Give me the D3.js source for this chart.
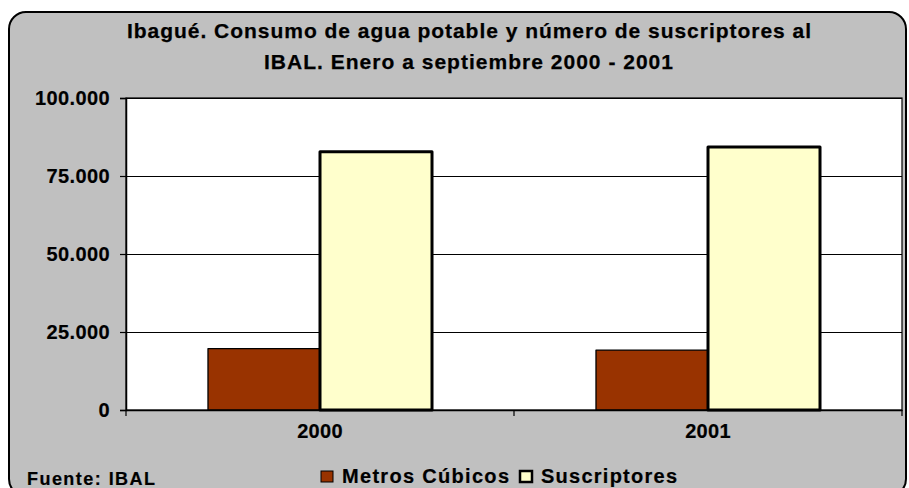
<!DOCTYPE html>
<html>
<head>
<meta charset="utf-8">
<script src="https://cdn.jsdelivr.net/npm/d3@7"></script>
<style>
  html, body { margin: 0; padding: 0; background: #ffffff; }
  svg { display: block; font-family: "Liberation Sans", Arial, sans-serif; font-weight: bold; }
</style>
</head>
<body>
<div id="chart"></div>
<script>
// Chart data
const years = ["2000", "2001"];
const seriesNames = ["Metros Cúbicos", "Suscriptores"];
const metrosCubicos = [19700, 19200];
const suscriptores = [82800, 84300];
const yTicks = [0, 25000, 50000, 75000, 100000];
const titleLines = ["Ibagué. Consumo de agua potable y número de suscriptores al",
                    "IBAL. Enero a septiembre 2000 - 2001"];
const sourceNote = "Fuente: IBAL";

const W = 909, H = 488;
const plot = { left: 126, right: 902, top: 98, bottom: 410 };
const colors = { "Metros Cúbicos": "#993300", "Suscriptores": "#FFFFCC" };
const strokeW = { "Metros Cúbicos": 1.3, "Suscriptores": 3 };
const FONT = "Liberation Sans, Arial, sans-serif";

const svg = d3.select("#chart").append("svg")
  .attr("width", W).attr("height", H);

// Rounded chart frame
svg.append("rect")
  .attr("x", 9).attr("y", 12).attr("width", 897).attr("height", 484)
  .attr("rx", 17).attr("ry", 17)
  .attr("fill", "#C0C0C0").attr("stroke", "#000").attr("stroke-width", 2);

// Title
const title = svg.append("g").attr("font-size", 21).attr("fill", "#000")
  .attr("stroke", "#000").attr("stroke-width", 0.25);
title.append("text").attr("x", 469).attr("y", 38).attr("text-anchor", "middle")
  .attr("textLength", 684).attr("lengthAdjust", "spacing").text(titleLines[0]);
title.append("text").attr("x", 468.5).attr("y", 69).attr("text-anchor", "middle")
  .attr("textLength", 409).attr("lengthAdjust", "spacing").text(titleLines[1]);

// Scales
const x = d3.scaleBand().domain(years).range([plot.left, plot.right]).padding(0);
const xs = d3.scaleBand().domain(seriesNames).range([0, x.bandwidth()])
  .paddingInner(0).paddingOuter(0.732);
const y = d3.scaleLinear().domain([0, 100000]).range([plot.bottom, plot.top]);

// Plot area
svg.append("rect")
  .attr("x", plot.left).attr("y", plot.top)
  .attr("width", plot.right - plot.left).attr("height", plot.bottom - plot.top)
  .attr("fill", "#fff").attr("stroke", "#000").attr("stroke-width", 1.2);

// Gridlines
svg.append("g").selectAll("line").data(yTicks.filter(d => d > 0)).join("line")
  .attr("x1", plot.left).attr("x2", plot.right)
  .attr("y1", d => Math.round(y(d)) + 0.5).attr("y2", d => Math.round(y(d)) + 0.5)
  .attr("stroke", "#000").attr("stroke-width", 1.2);

// Bars
const data = years.map((yr, i) => ({
  year: yr,
  values: [
    { name: seriesNames[0], value: metrosCubicos[i] },
    { name: seriesNames[1], value: suscriptores[i] }
  ]
}));

const groups = svg.append("g").selectAll("g").data(data).join("g")
  .attr("transform", d => `translate(${x(d.year)},0)`);
groups.selectAll("rect").data(d => d.values).join("rect")
  .attr("x", d => xs(d.name))
  .attr("y", d => y(d.value))
  .attr("width", xs.bandwidth())
  .attr("height", d => y(0) - y(d.value))
  .attr("fill", d => colors[d.name])
  .attr("stroke", "#000")
  .attr("stroke-width", d => strokeW[d.name])
  .attr("stroke-linejoin", "round");

// Y axis
const yAxis = d3.axisLeft(y).tickValues(yTicks).tickSize(6).tickPadding(10)
  .tickFormat(d => d3.format(",")(d).replace(/,/g, "."));
const yg = svg.append("g").attr("transform", `translate(${plot.left},0)`).call(yAxis);
yg.select(".domain").attr("stroke", "#000").attr("stroke-width", 1.5);
yg.selectAll(".tick line").attr("stroke", "#000").attr("stroke-width", 1.2);
yg.selectAll(".tick text").attr("font-size", 20).attr("font-family", FONT)
  .attr("font-weight", "bold").attr("fill", "#000").attr("letter-spacing", 0.4)
  .attr("stroke", "#000").attr("stroke-width", 0.2).attr("dy", "0.34em");

// X axis
const xAxis = d3.axisBottom(x).tickSize(0).tickPadding(14);
const xg = svg.append("g").attr("transform", `translate(0,${plot.bottom})`).call(xAxis);
xg.select(".domain").attr("stroke", "#000").attr("stroke-width", 1.5);
xg.selectAll(".tick text").attr("font-size", 20).attr("font-family", FONT)
  .attr("font-weight", "bold").attr("fill", "#000").attr("letter-spacing", 0.3)
  .attr("stroke", "#000").attr("stroke-width", 0.2);
// Category separators below the axis
const sep = [plot.left, ...years.slice(1).map(d => x(d)), plot.right];
svg.append("g").selectAll("line").data(sep).join("line")
  .attr("x1", d => d).attr("x2", d => d)
  .attr("y1", plot.bottom).attr("y2", plot.bottom + 6)
  .attr("stroke", "#000").attr("stroke-width", 1.2);

// Legend
const legend = svg.append("g").attr("font-size", 20).attr("fill", "#000")
  .attr("stroke", "#000").attr("stroke-width", 0.2);
const legendX = [321, 520];
const legendW = [167, 136];
seriesNames.forEach((name, i) => {
  legend.append("rect")
    .attr("x", legendX[i]).attr("y", 471).attr("width", 12).attr("height", 11)
    .attr("fill", colors[name]).attr("stroke", "#000").attr("stroke-width", i === 0 ? 1 : 2.5);
  legend.append("text")
    .attr("x", legendX[i] + 21).attr("y", 483)
    .attr("textLength", legendW[i]).attr("lengthAdjust", "spacing").text(name);
});

// Source note
svg.append("text").attr("x", 27).attr("y", 485).attr("font-size", 18)
  .attr("textLength", 128).attr("lengthAdjust", "spacing")
  .attr("fill", "#000").attr("stroke", "#000").attr("stroke-width", 0.2).text(sourceNote);
</script>
</body>
</html>
